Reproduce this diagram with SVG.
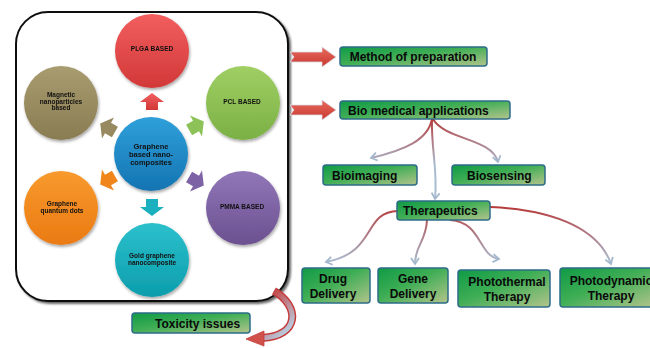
<svg xmlns="http://www.w3.org/2000/svg" width="650" height="348" viewBox="0 0 650 348">
<defs>
<style>
.ct{font-family:"Liberation Sans",Arial,sans-serif;font-weight:bold;fill:#111;text-anchor:middle}
.bt{font-family:"Liberation Sans",Arial,sans-serif;font-weight:bold;font-size:12px;fill:#0a0a0a}
.box{fill:url(#gbox);stroke:#2d6c88;stroke-width:1.5}
.con{fill:none;stroke-width:2;marker-end:url(#chev)}
</style>
<filter id="sh" x="-20%" y="-20%" width="140%" height="140%"><feDropShadow dx="1" dy="2" stdDeviation="1.5" flood-opacity="0.35"/></filter>
<filter id="bs" x="-5%" y="-5%" width="110%" height="110%"><feDropShadow dx="2" dy="2" stdDeviation="1" flood-opacity="0.6"/></filter>
<linearGradient id="gbox" x1="0" y1="0" x2="1" y2="1">
<stop offset="0" stop-color="#0f9a46"/><stop offset="0.45" stop-color="#3fae55"/><stop offset="1" stop-color="#b4c48c"/>
</linearGradient>
<linearGradient id="gr" x1="0" y1="0" x2="0" y2="1"><stop offset="0" stop-color="#f25e5e"/><stop offset="1" stop-color="#d23838"/></linearGradient>
<linearGradient id="gg" x1="0" y1="0" x2="0" y2="1"><stop offset="0" stop-color="#a0cf64"/><stop offset="1" stop-color="#7bb045"/></linearGradient>
<linearGradient id="gp" x1="0" y1="0" x2="0" y2="1"><stop offset="0" stop-color="#9177b8"/><stop offset="1" stop-color="#6c5090"/></linearGradient>
<linearGradient id="gt" x1="0" y1="0" x2="0" y2="1"><stop offset="0" stop-color="#2cc0cc"/><stop offset="1" stop-color="#0c9dac"/></linearGradient>
<linearGradient id="go" x1="0" y1="0" x2="0" y2="1"><stop offset="0" stop-color="#f89a2e"/><stop offset="1" stop-color="#ea7a12"/></linearGradient>
<linearGradient id="gk" x1="0" y1="0" x2="0" y2="1"><stop offset="0" stop-color="#a89c70"/><stop offset="1" stop-color="#8a7c52"/></linearGradient>
<linearGradient id="gb" x1="0" y1="0" x2="0" y2="1"><stop offset="0" stop-color="#2fa0da"/><stop offset="1" stop-color="#1474b2"/></linearGradient>
<linearGradient id="gc1" gradientUnits="userSpaceOnUse" x1="0" y1="118" x2="0" y2="165"><stop offset="0" stop-color="#b53a3a"/><stop offset="1" stop-color="#a9bcd1"/></linearGradient>
<linearGradient id="gc2" gradientUnits="userSpaceOnUse" x1="0" y1="207" x2="0" y2="262"><stop offset="0" stop-color="#b53a3a"/><stop offset="1" stop-color="#a9bcd1"/></linearGradient>
<linearGradient id="gtox" gradientUnits="userSpaceOnUse" x1="270" y1="290" x2="300" y2="320"><stop offset="0" stop-color="#c43c3c"/><stop offset="1" stop-color="#b8cde0"/></linearGradient>
<linearGradient id="garr" x1="0" y1="0" x2="0" y2="1"><stop offset="0" stop-color="#e86a5e"/><stop offset="1" stop-color="#c9382f"/></linearGradient>
<marker id="chev" markerWidth="10" markerHeight="10" refX="7" refY="5" orient="auto" markerUnits="userSpaceOnUse">
<polyline points="1,1 7,5 1,9" fill="none" stroke="#a3b7cd" stroke-width="1.8"/>
</marker>
<polygon id="barr" points="-6,8 6,8 6,0 12,0 0,-9 -12,0 -6,0"/>
</defs>

<rect x="16" y="12" width="272" height="289" rx="32" fill="#fff" stroke="#111" stroke-width="2" filter="url(#bs)"/>

<g id="center-arrows">
<use href="#barr" fill="url(#gr)" transform="translate(152,102)"/>
<use href="#barr" fill="#8cc257" transform="translate(196,126) rotate(60)"/>
<use href="#barr" fill="#7d62a5" transform="translate(196,181) rotate(120)"/>
<use href="#barr" fill="#1bb0bf" transform="translate(152,207) rotate(180)"/>
<use href="#barr" fill="#f0851c" transform="translate(108,180) rotate(240)"/>
<use href="#barr" fill="#978a60" transform="translate(108,128) rotate(300)"/>
</g>

<g id="n-plga" filter="url(#sh)"><circle cx="152" cy="51" r="37" fill="url(#gr)"/><text class="ct" x="152" y="51" font-size="6.5">PLGA BASED</text></g>
<g id="n-pcl" filter="url(#sh)"><circle cx="243" cy="103" r="37" fill="url(#gg)"/><text class="ct" x="242" y="104" font-size="6.5">PCL BASED</text></g>
<g id="n-pmma" filter="url(#sh)"><circle cx="243" cy="208" r="37" fill="url(#gp)"/><text class="ct" x="242" y="209" font-size="6.5">PMMA BASED</text></g>
<g id="n-gold" filter="url(#sh)"><circle cx="152" cy="260" r="37" fill="url(#gt)"/><text class="ct" x="152" y="258" font-size="6.5">Gold graphene</text><text class="ct" x="152" y="265" font-size="6.5">nanocomposite</text></g>
<g id="n-gqd" filter="url(#sh)"><circle cx="61" cy="208" r="37" fill="url(#go)"/><text class="ct" x="62" y="206" font-size="6.5">Graphene</text><text class="ct" x="62" y="213" font-size="6.5">quantum dots</text></g>
<g id="n-mag" filter="url(#sh)"><circle cx="61" cy="103" r="37" fill="url(#gk)"/><text class="ct" x="61" y="97" font-size="6.5">Magnetic</text><text class="ct" x="61" y="103.5" font-size="6.5">nanoparticles</text><text class="ct" x="61" y="110" font-size="6.5">based</text></g>
<g id="n-center" filter="url(#sh)"><circle cx="151" cy="154" r="37" fill="url(#gb)"/><text class="ct" x="151" y="149" font-size="7.5">Graphene</text><text class="ct" x="151" y="157" font-size="7.5">based nano-</text><text class="ct" x="151" y="165" font-size="7.5">composites</text></g>

<g id="connectors">
<polygon points="290,52 322,52 322,47 336,57 322,67 322,62 290,62 294,57" fill="url(#garr)" stroke="#d8dde8" stroke-width="0.8"/>
<polygon points="290,105 322,105 322,100 336,110 322,120 322,115 290,115 294,110" fill="url(#garr)" stroke="#d8dde8" stroke-width="0.8"/>
<path class="con" stroke="url(#gc1)" d="M432,119 C428,140 405,150 371,158"/>
<path class="con" stroke="url(#gc1)" d="M433,119 C445,140 492,138 498,162"/>
<path class="con" stroke="url(#gc1)" d="M432,119 C431,150 438,170 435,199"/>
<path class="con" stroke="url(#gc2)" d="M398,211 C362,212 378,252 326,262"/>
<path class="con" stroke="url(#gc2)" d="M427,220 C426,242 415,245 415,264"/>
<path class="con" stroke="url(#gc2)" d="M450,220 C482,222 478,256 499,259"/>
<path class="con" stroke="url(#gc2)" d="M490,207 C560,210 600,232 611,264"/>
<path d="M274,291 C300,306 300,336 262,338" fill="none" stroke="#c43c3c" stroke-width="8"/>
<path d="M274,291 C300,306 300,336 262,338" fill="none" stroke="url(#gtox)" stroke-width="5"/>
<polygon points="264,331 264,346 246,339" fill="#d0504a" stroke="#c43c3c" stroke-width="0.8"/>
</g>

<g id="n-method"><rect class="box" x="340" y="47" width="147" height="19" rx="3"/><text class="bt" x="413" y="61" text-anchor="middle">Method of preparation</text></g>
<g id="n-bio"><rect class="box" x="340" y="101" width="170" height="18" rx="3"/><text class="bt" x="348" y="114.5">Bio medical applications</text></g>
<g id="n-imaging"><rect class="box" x="323" y="165" width="94" height="20" rx="3"/><text class="bt" x="332" y="179.5">Bioimaging</text></g>
<g id="n-sensing"><rect class="box" x="452" y="165" width="93" height="20" rx="3"/><text class="bt" x="467" y="179.5">Biosensing</text></g>
<g id="n-thera"><rect class="box" x="397" y="201" width="93" height="19" rx="3"/><text class="bt" x="403" y="215">Therapeutics</text></g>
<g id="n-drug"><rect class="box" x="302" y="268" width="68" height="35" rx="3"/><text class="bt" x="333" y="283" text-anchor="middle">Drug</text><text class="bt" x="333" y="298" text-anchor="middle">Delivery</text></g>
<g id="n-gene"><rect class="box" x="378" y="268" width="70" height="35" rx="3"/><text class="bt" x="413" y="283" text-anchor="middle">Gene</text><text class="bt" x="413" y="298" text-anchor="middle">Delivery</text></g>
<g id="n-ptt"><rect class="box" x="458" y="270" width="92" height="37" rx="3"/><text class="bt" x="507" y="286" text-anchor="middle">Photothermal</text><text class="bt" x="507" y="301" text-anchor="middle">Therapy</text></g>
<g id="n-pdt"><rect class="box" x="560" y="268" width="96" height="39" rx="3"/><text class="bt" x="611" y="285" text-anchor="middle">Photodynamic</text><text class="bt" x="611" y="300" text-anchor="middle">Therapy</text></g>
<g id="n-tox"><rect class="box" x="132" y="313" width="118" height="20" rx="3"/><text class="bt" x="155" y="327.5">Toxicity issues</text></g>
</svg>
